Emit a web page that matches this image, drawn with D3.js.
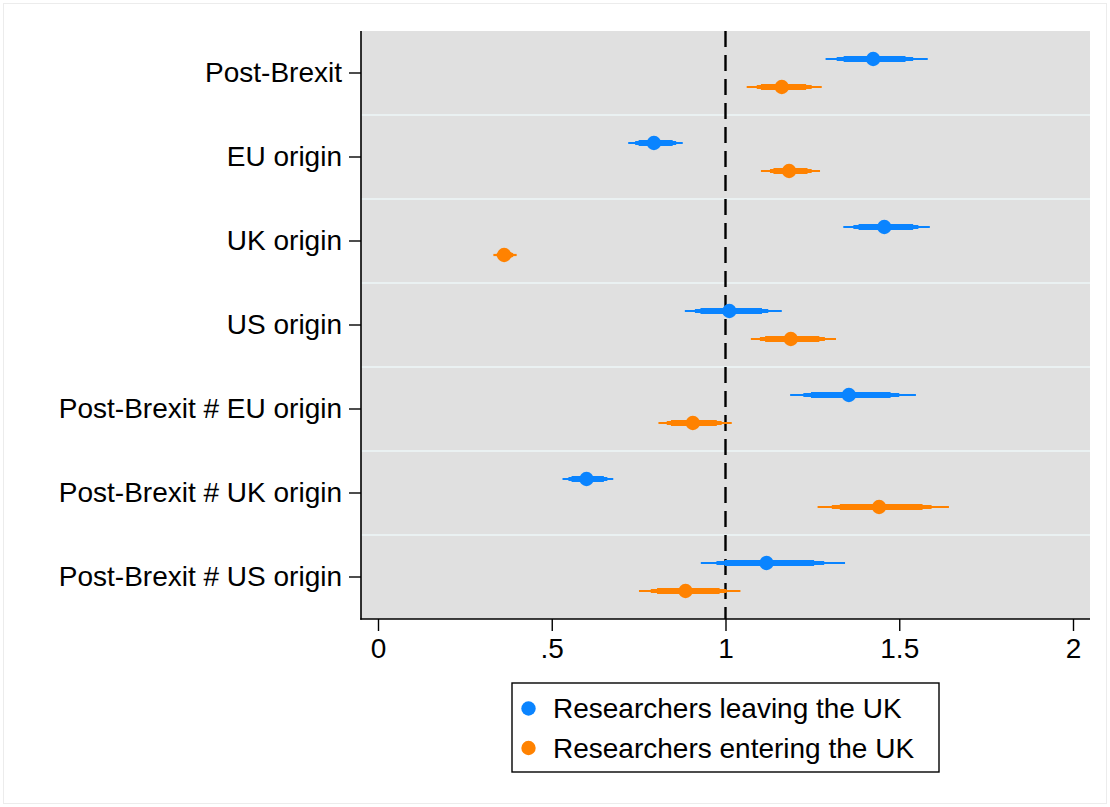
<!DOCTYPE html>
<html>
<head>
<meta charset="utf-8">
<script src="https://cdn.jsdelivr.net/npm/d3@7"></script>
<style>
  html, body { margin: 0; padding: 0; background: #ffffff; }
  svg text { font-family: "Liberation Sans", Arial, sans-serif; }
</style>
</head>
<body>
<svg id="chart" width="1110" height="807"></svg>
<script>
// ---- data ----
const categories = ["Post-Brexit", "EU origin", "UK origin", "US origin",
  "Post-Brexit # EU origin", "Post-Brexit # UK origin", "Post-Brexit # US origin"];
const seriesNames = ["Researchers leaving the UK", "Researchers entering the UK"];
const xTickValues = [0, 0.5, 1, 1.5, 2];
const xTickLabels = ["0", ".5", "1", "1.5", "2"];

// leaving the UK
const leavingPoint = [1.425, 0.794, 1.457, 1.011, 1.355, 0.600, 1.118];
const leavingLo99 = [1.288, 0.720, 1.339, 0.883, 1.186, 0.531, 0.929];
const leavingHi99 = [1.582, 0.877, 1.588, 1.162, 1.548, 0.677, 1.344];
const leavingLo95 = [1.320, 0.740, 1.368, 0.912, 1.224, 0.548, 0.974];
const leavingHi95 = [1.540, 0.858, 1.555, 1.123, 1.500, 0.660, 1.284];
const leavingLo90 = [1.340, 0.750, 1.383, 0.928, 1.246, 0.557, 0.998];
const leavingHi90 = [1.518, 0.848, 1.540, 1.105, 1.475, 0.650, 1.255];

// entering the UK
const enteringPoint = [1.162, 1.183, 0.363, 1.188, 0.906, 1.442, 0.885];
const enteringLo99 = [1.061, 1.102, 0.332, 1.073, 0.807, 1.265, 0.751];
const enteringHi99 = [1.277, 1.272, 0.399, 1.318, 1.018, 1.643, 1.043];
const enteringLo95 = [1.090, 1.128, 0.342, 1.099, 0.831, 1.306, 0.785];
const enteringHi95 = [1.248, 1.248, 0.389, 1.286, 0.989, 1.593, 1.003];
const enteringLo90 = [1.102, 1.138, 0.347, 1.114, 0.843, 1.329, 0.803];
const enteringHi90 = [1.232, 1.236, 0.384, 1.270, 0.975, 1.567, 0.983];

const refValue = 1;

// ---- layout ----
const colors = ["#0a84ff", "#ff8200"];
const plot = { left: 361, right: 1090, top: 31, bottom: 619 };
const svg = d3.select("#chart");

const x = d3.scaleLinear().domain([0, 2]).range([378, 1073]);
const y = d3.scaleBand().domain(categories).range([plot.top, plot.bottom]).padding(0);
const yS = d3.scalePoint().domain(seriesNames).range([y.bandwidth() / 3, 2 * y.bandwidth() / 3]);

// outer frame
svg.append("rect").attr("x", 3.5).attr("y", 3.5).attr("width", 1103).attr("height", 800)
  .attr("fill", "#ffffff").attr("stroke", "#ececec").attr("stroke-width", 1);

// plot region
svg.append("rect").attr("x", plot.left).attr("y", plot.top)
  .attr("width", plot.right - plot.left).attr("height", plot.bottom - plot.top)
  .attr("fill", "#e0e0e0");

// gridlines between categories
svg.append("g").selectAll("line").data(categories.slice(1)).join("line")
  .attr("x1", plot.left).attr("x2", plot.right)
  .attr("y1", d => y(d)).attr("y2", d => y(d))
  .attr("stroke", "#eaf1f2").attr("stroke-width", 2);

// reference line
svg.append("line").attr("x1", x(refValue)).attr("x2", x(refValue))
  .attr("y1", plot.top).attr("y2", plot.bottom)
  .attr("stroke", "#000").attr("stroke-width", 2.4).attr("stroke-dasharray", "16,8");

// series data
const series = [
  { name: seriesNames[0], color: colors[0], pt: leavingPoint,
    lo99: leavingLo99, hi99: leavingHi99, lo95: leavingLo95, hi95: leavingHi95, lo90: leavingLo90, hi90: leavingHi90 },
  { name: seriesNames[1], color: colors[1], pt: enteringPoint,
    lo99: enteringLo99, hi99: enteringHi99, lo95: enteringLo95, hi95: enteringHi95, lo90: enteringLo90, hi90: enteringHi90 }
];
const levels = [
  { lo: "lo99", hi: "hi99", w: 2.2 },
  { lo: "lo95", hi: "hi95", w: 4.2 },
  { lo: "lo90", hi: "hi90", w: 6.0 }
];

series.forEach(s => {
  const g = svg.append("g");
  const rows = categories.map((c, i) => ({ c, i }));
  levels.forEach(l => {
    g.selectAll(null).data(rows).join("line")
      .attr("x1", d => x(s[l.lo][d.i])).attr("x2", d => x(s[l.hi][d.i]))
      .attr("y1", d => y(d.c) + yS(s.name)).attr("y2", d => y(d.c) + yS(s.name))
      .attr("stroke", s.color).attr("stroke-width", l.w);
  });
  g.selectAll(null).data(rows).join("circle")
    .attr("cx", d => x(s.pt[d.i])).attr("cy", d => y(d.c) + yS(s.name))
    .attr("r", 7.2).attr("fill", s.color);
});

// axes
const fontSize = 28;
const xAxis = d3.axisBottom(x).tickValues(xTickValues)
  .tickFormat((d, i) => xTickLabels[i]).tickSize(12).tickPadding(7).tickSizeOuter(0);
const gx = svg.append("g").attr("transform", `translate(0,${plot.bottom})`).call(xAxis);
gx.select(".domain").remove();
gx.selectAll("line").attr("stroke", "#000").attr("stroke-width", 1.4);
gx.selectAll("text").attr("font-size", fontSize).attr("fill", "#000")
  .attr("font-family", "'Liberation Sans', Arial, sans-serif");

const yAxis = d3.axisLeft(y).tickSize(12).tickPadding(7).tickSizeOuter(0);
const gy = svg.append("g").attr("transform", `translate(${plot.left},0)`).call(yAxis);
gy.select(".domain").remove();
gy.selectAll("line").attr("stroke", "#000").attr("stroke-width", 1.4);
gy.selectAll("text").attr("font-size", fontSize).attr("fill", "#000")
  .attr("font-family", "'Liberation Sans', Arial, sans-serif");

// axis lines
svg.append("line").attr("x1", plot.left).attr("x2", plot.left)
  .attr("y1", plot.top).attr("y2", plot.bottom + 0.7)
  .attr("stroke", "#000").attr("stroke-width", 1.6);
svg.append("line").attr("x1", plot.left - 0.7).attr("x2", plot.right)
  .attr("y1", plot.bottom).attr("y2", plot.bottom)
  .attr("stroke", "#000").attr("stroke-width", 1.6);

// legend
const lg = svg.append("g");
lg.append("rect").attr("x", 512).attr("y", 683).attr("width", 427).attr("height", 89)
  .attr("fill", "#fff").attr("stroke", "#000").attr("stroke-width", 1.4);
seriesNames.forEach((n, i) => {
  const cy = 708.5 + i * 39.5;
  lg.append("circle").attr("cx", 528.5).attr("cy", cy).attr("r", 7.2).attr("fill", colors[i]);
  lg.append("text").attr("x", 553).attr("y", cy).attr("dy", "0.35em")
    .attr("font-size", fontSize).attr("fill", "#000").text(n);
});
</script>
</body>
</html>
